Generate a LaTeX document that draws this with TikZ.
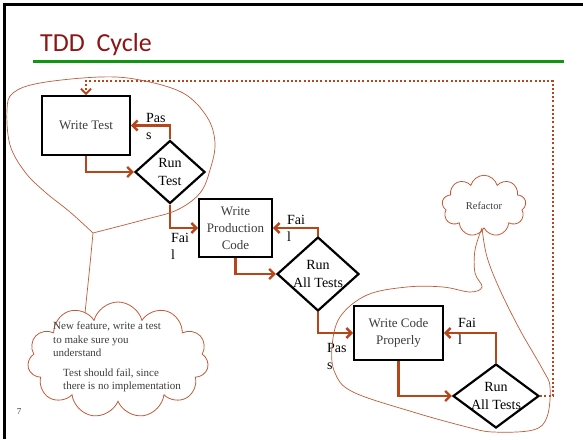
\documentclass[tikz,border=0pt]{standalone}
\usepackage{fontspec}
\setmainfont{Liberation Serif}
\newfontfamily\titlefont{Carlito}
\usetikzlibrary{shapes.geometric,shapes.symbols,arrows.meta}
\definecolor{rust}{RGB}{184,68,26}
\definecolor{pen}{RGB}{194,90,56}
\definecolor{titlered}{RGB}{139,22,22}
\definecolor{rulegreen}{RGB}{16,150,16}
\definecolor{boxtext}{RGB}{60,60,60}

\begin{document}
\begin{tikzpicture}[x=1pt, y=-1pt, >={Straight Barb[length=5pt,width=10pt]},
  box/.style={draw, line width=1.8pt, fill=white, text=boxtext, align=center, inner sep=2pt, font=\fontsize{13}{17}\selectfont},
  dia/.style={draw, diamond, line width=2.2pt, fill=white, inner sep=0pt},
  dtext/.style={align=center, font=\fontsize{14}{18}\selectfont},
  flow/.style={->, draw=rust, line width=2.4pt},
  lbl/.style={anchor=north west, align=left, inner sep=0pt, font=\fontsize{14}{17}\selectfont},
  loopback/.style={->, draw=rust, line width=2pt, dash pattern=on 2pt off 2.2pt},
  idea/.style={cloud, draw=pen, line width=0.8pt, inner sep=0pt},
  scribble/.style={draw=pen, line width=0.7pt}]
\useasboundingbox (0,0) rectangle (583,439);

% slide frame and title
\draw[line width=2.6pt] (583,4.5) -- (4.5,4.5) -- (4.5,439);
\node[anchor=base west, inner sep=0pt, text=titlered, font=\titlefont\fontsize{26}{30}\selectfont] (title) at (40,51) {TDD\ \ Cycle};
\draw[rulegreen, line width=3pt] (33,61.5) -- (564,61.5);

% steps
\node[box, minimum width=88pt, minimum height=59pt] (wt) at (86,125.5) {Write Test};
\node[dia, minimum width=70pt, minimum height=63pt, label={[dtext]center:{Run\\Test}}] (rt) at (170,172) {};
\node[box, minimum width=73pt, minimum height=58pt] (wpc) at (235.5,228) {Write\\Production\\Code};
\node[dia, minimum width=82pt, minimum height=74pt, label={[dtext]center:{Run\\All Tests}}] (rat1) at (318,274) {};
\node[box, minimum width=89pt, minimum height=54pt] (wcp) at (398.5,333) {Write Code\\Properly};
\node[dia, minimum width=86pt, minimum height=64pt, label={[dtext]center:{Run\\All Tests}}] (rat2) at (496,396) {};

% arrows
\draw[flow] (wt.south) |- (rt.west);
\draw[flow] (rt.north) |- (wt.east);
\draw[flow] (rt.south) |- (wpc.west);
\draw[flow] (wpc.south) |- (rat1.west);
\draw[flow] (rat1.north) |- (wpc.east);
\draw[flow] (rat1.south) |- (wcp.west);
\draw[flow] (wcp.south) |- (rat2.west);
\draw[flow] (rat2.north) |- (wcp.east);

\node[lbl] (pass1) at (146,113) {Pas\\s};
\node[lbl] (fail1) at (171,233) {Fai\\l};
\node[lbl] (fail2) at (287,215) {Fai\\l};
\node[lbl] (pass2) at (327,343) {Pas\\s};
\node[lbl] (fail3) at (458,318) {Fai\\l};

% back to the start
\coordinate (corner) at (553,81);
\draw[loopback] (rat2.east) -| (corner) -| (wt.north);

% notes
\node[idea, cloud puffs=11, minimum width=181pt, minimum height=116pt] (note) at (118,360) {};
\node[anchor=north west, align=left, inner sep=0pt, text=boxtext, font=\fontsize{11}{13.5}\selectfont] (notetext) at (53,322)
  {New feature, write a test\\to make sure you\\understand\\[6pt]\hspace*{10pt}Test should fail, since\\\hspace*{10pt}there is no implementation};
\node[idea, cloud puffs=9, minimum width=84pt, minimum height=43pt, text=boxtext, font=\fontsize{10.5}{12}\selectfont] (refactor) at (484,206) {Refactor};

\coordinate (knot1) at (93,233);
\coordinate (tip1) at (85,313);
\draw[scribble] plot[smooth, tension=0.6] coordinates {(93,233) (70,212) (45,192) (25,172) (10,145) (7,110) (13,93) (40,83) (100,77) (140,80) (183,93) (207,117) (215,143) (210,170) (200,193) (177,210) (143,220) (93,233)};
\draw[scribble] (knot1) .. controls (90,265) .. (tip1);

\coordinate (knot2) at (482,228);
\draw[scribble] plot[smooth, tension=0.6] coordinates {(482,228) (475,250) (475,273) (482,287) (470,292) (443,287) (407,287) (367,295) (340,317) (332,347) (335,373) (353,392) (413,412) (467,427) (493,432) (533,430) (547,417) (550,387) (543,370) (520,330) (500,290) (487,257) (482,228)};

\node[inner sep=0pt, text=boxtext, font=\fontsize{9}{10}\selectfont] (pageno) at (19,412) {7};
\end{tikzpicture}
\end{document}
